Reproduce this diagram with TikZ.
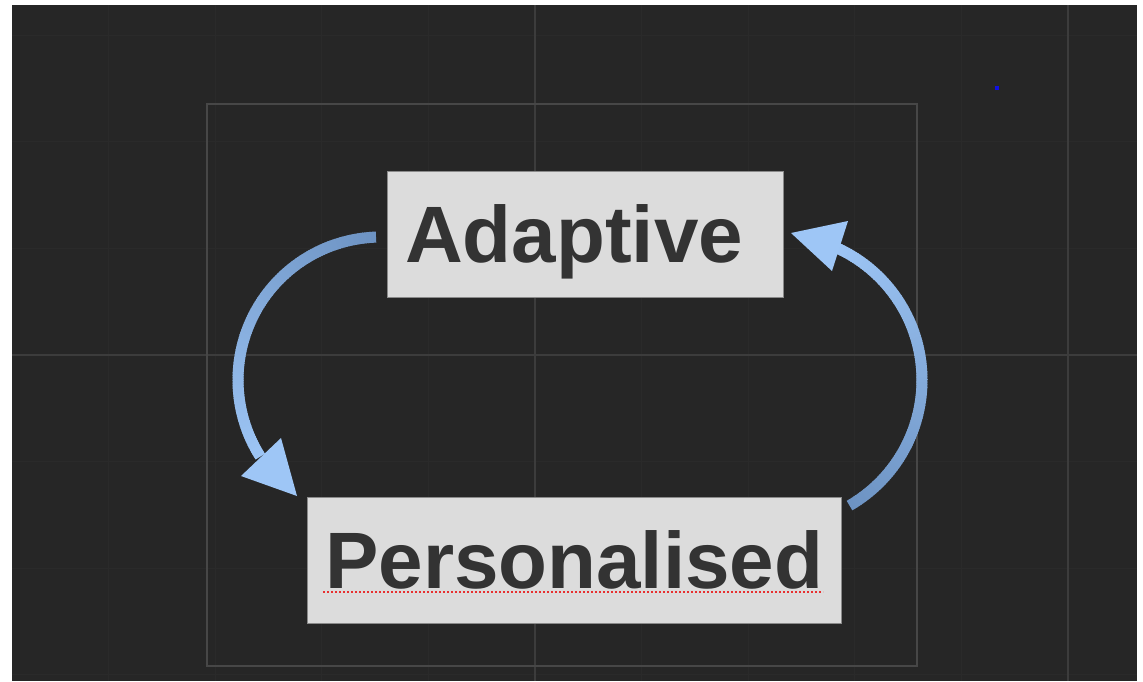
\documentclass[tikz,border=0pt]{standalone}
\usepackage{fontspec}
\setmainfont{Liberation Sans}
\definecolor{bgdark}{HTML}{262626}
\definecolor{gridminor}{HTML}{2A2A2A}
\definecolor{gridmajor}{HTML}{3C3C3C}
\definecolor{framegray}{HTML}{474747}
\definecolor{boxfill}{HTML}{DCDCDC}
\definecolor{boxline}{HTML}{8A8A8A}
\definecolor{textdark}{HTML}{333333}
\definecolor{arrdark}{HTML}{6D93C3}
\definecolor{arrlight}{HTML}{9EC6F6}
\definecolor{spellred}{HTML}{E83030}
\definecolor{dotblue}{HTML}{1010E0}
\tikzset{
  labelbox/.style={draw=boxline, line width=0.8pt, fill=boxfill, rectangle, inner sep=0pt},
  labeltext/.style={inner sep=0pt, text=textdark, font=\fontsize{80}{90}\selectfont\bfseries, anchor=base west},
  gridmin/.style={draw=gridminor, line width=1.2pt},
  gridmaj/.style={draw=gridmajor, line width=1.8pt},
  headfill/.style={fill=arrlight, draw=none}
}
\begin{document}
\begin{tikzpicture}[x=1pt,y=-1pt]
\useasboundingbox (0,0) rectangle (1143,681);
\fill[white] (0,0) rectangle (1143,681);
\fill[bgdark] (12,5) rectangle (1137,681);
% grid
\foreach \gx in {108.6,215.2,321.8,428.4,641.6,748.2,854.8,961.4}
  \draw[gridmin] (\gx,5) -- (\gx,681);
\foreach \gy in {35.2,141.8,248.4,461.6,568.2,674.8}
  \draw[gridmin] (12,\gy) -- (1137,\gy);
\draw[gridmaj] (535,5) -- (535,681);
\draw[gridmaj] (1068,5) -- (1068,681);
\draw[gridmaj] (12,355) -- (1137,355);
% frame
\draw[framegray, line width=2pt] (207,104) rectangle (917,666);
% blue dot
\fill[dotblue] (995,86) rectangle (999,90);
% boxes
\node[labelbox, minimum width=396pt, minimum height=126pt] (adaptive) at (585,234) {};
\node[labeltext] (adaptivetxt) at (405,262) {Adaptive};
\node[labelbox, minimum width=534pt, minimum height=126pt] (personal) at (574,560) {};
\node[labeltext] (personaltxt) at (325,588) {Personalised};
\draw[spellred, line width=2pt, dash pattern=on 2pt off 2pt] (323,591.5) -- (823,591.5);
% left arrow: centre (381,380), r=143, tail 92.4 -> 212
\coordinate (lc) at (381,380);
\foreach \a in {92,93,...,211}{
  \pgfmathsetmacro{\pct}{100*(\a-92)/122}
  \draw[arrlight!\pct!arrdark, line width=11pt]
    ({381+143*cos(\a)},{380-143*sin(\a)}) -- ({381+143*cos(\a+1.4)},{380-143*sin(\a+1.4)});
}
\fill[headfill] (297,496) -- (241,476) -- (281,438) -- cycle;
% right arrow: centre (777,380), r=145, tail -60 -> 66
\coordinate (rc) at (777,380);
\foreach \a in {-60,-59,...,65}{
  \pgfmathsetmacro{\pct}{100*(\a+60)/127}
  \draw[arrlight!\pct!arrdark, line width=11pt]
    ({777+145*cos(\a)},{380-145*sin(\a)}) -- ({777+145*cos(\a+1.4)},{380-145*sin(\a+1.4)});
}
\fill[headfill] (791,233) -- (848,221) -- (832,271) -- cycle;
\end{tikzpicture}
\end{document}
